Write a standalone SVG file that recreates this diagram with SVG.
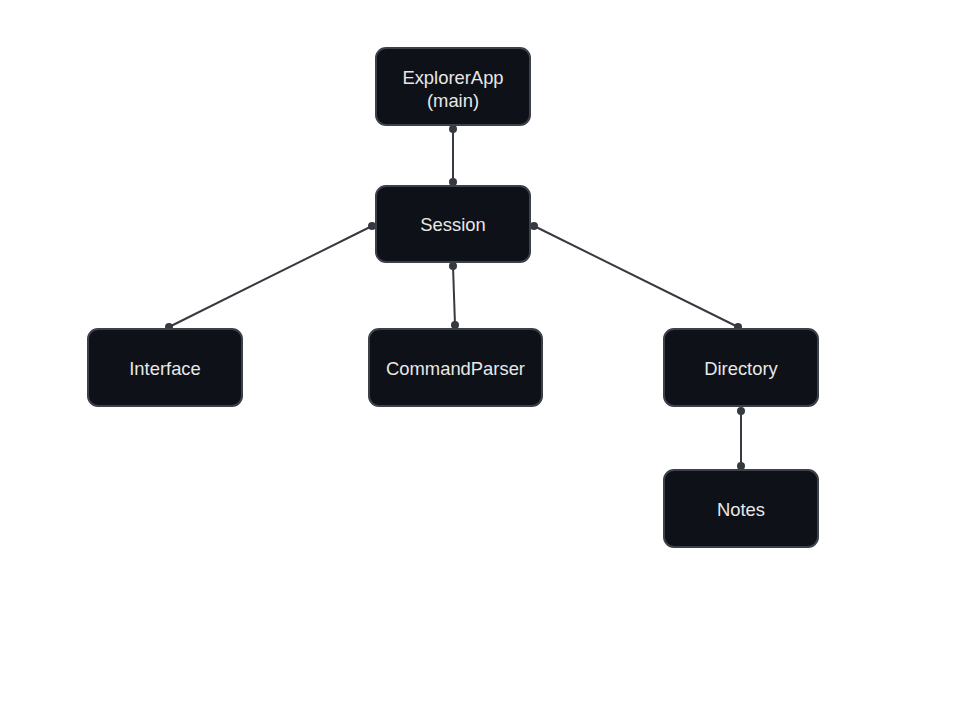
<svg xmlns="http://www.w3.org/2000/svg" width="960" height="720" viewBox="0 0 960 720">
<style>
.node rect{fill:#0e1117;stroke:#3b4049;stroke-width:2}
.node text{fill:#e8e8e8;font-family:"Liberation Sans",Arial,sans-serif;font-size:18.4px;text-anchor:middle;dominant-baseline:central}
.edge line{stroke:#363a40;stroke-width:2}
.edge circle{fill:#363a40}
</style>
<rect width="960" height="720" fill="#ffffff"/>
<g id="connectors" class="edge">
<line x1="453" y1="129" x2="453" y2="182"/><circle cx="453" cy="129" r="4"/><circle cx="453" cy="182" r="4"/>
<line x1="372" y1="226" x2="169" y2="327"/><circle cx="372" cy="226" r="4"/><circle cx="169" cy="327" r="4"/>
<line x1="453" y1="266" x2="455" y2="325"/><circle cx="453" cy="266" r="4"/><circle cx="455" cy="325" r="4"/>
<line x1="534" y1="226" x2="738" y2="327"/><circle cx="534" cy="226" r="4"/><circle cx="738" cy="327" r="4"/>
<line x1="741" y1="411" x2="741" y2="466"/><circle cx="741" cy="411" r="4"/><circle cx="741" cy="466" r="4"/>
</g>
<g id="explorerapp" class="node"><rect x="376" y="48" width="154" height="77" rx="10"/><text x="453" y="77">ExplorerApp</text><text x="453" y="100">(main)</text></g>
<g id="session" class="node"><rect x="376" y="186" width="154" height="76" rx="10"/><text x="453" y="224">Session</text></g>
<g id="interface" class="node"><rect x="88" y="329" width="154" height="77" rx="10"/><text x="165" y="368">Interface</text></g>
<g id="commandparser" class="node"><rect x="369" y="329" width="173" height="77" rx="10"/><text x="455.5" y="368">CommandParser</text></g>
<g id="directory" class="node"><rect x="664" y="329" width="154" height="77" rx="10"/><text x="741" y="368">Directory</text></g>
<g id="notes" class="node"><rect x="664" y="470" width="154" height="77" rx="10"/><text x="741" y="509">Notes</text></g>
</svg>
